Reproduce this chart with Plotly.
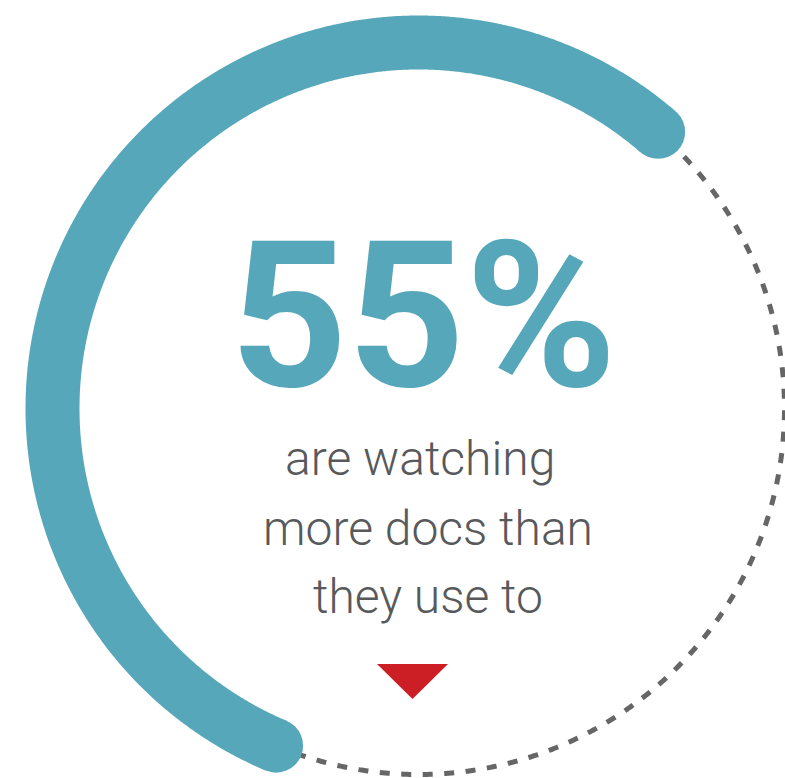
import numpy as np
import plotly.graph_objects as go

# ---- data -----------------------------------------------------------------
SHARE_PCT = 55
HEADLINE = "55%"
CAPTION_LINES = ["are watching", "more docs than", "they use to"]

# ---- styling ----------------------------------------------------------------
TEAL = "#56a7ba"
DOT_GREY = "#666666"
TEXT_GREY = "#58595b"
RED = "#cc1f25"

W, H = 785, 778                 # canvas in px; axes are mapped 1:1 to pixels
CX, CY, R = 418.5, 408.5, 366   # ring centre and radius
RING_W = 54                     # stroke width of the filled arc
ARC_END_DEG = 247.1             # angle of the lower-left end of the filled arc


def ring_xy(deg_from, deg_to, n=720):
    t = np.radians(np.linspace(deg_from, deg_to, n))
    return CX + R * np.cos(t), CY - R * np.sin(t)


span = 360.0 * SHARE_PCT / 100.0
arc_start = ARC_END_DEG - span

fig = go.Figure()

# remaining share: dotted grey arc
rx, ry = ring_xy(ARC_END_DEG - 360.0, arc_start)
fig.add_trace(go.Scatter(
    x=rx, y=ry, mode="lines",
    line=dict(color=DOT_GREY, width=5, dash="10px,11.5px", simplify=False),
    hoverinfo="skip", showlegend=False,
))

# share: thick teal arc with rounded ends
ax, ay = ring_xy(arc_start, ARC_END_DEG)
fig.add_trace(go.Scatter(
    x=ax, y=ay, mode="lines",
    line=dict(color=TEAL, width=RING_W, simplify=False),
    hoverinfo="skip", showlegend=False,
))
fig.add_trace(go.Scatter(
    x=[ax[0], ax[-1]], y=[ay[0], ay[-1]], mode="markers",
    marker=dict(color=TEAL, size=RING_W, line=dict(width=0)),
    hoverinfo="skip", showlegend=False, cliponaxis=False,
))

# red down-pointing marker under the caption
TRI_CX, TRI_TOP, TRI_W, TRI_H = 412.5, 664, 71, 35
fig.add_trace(go.Scatter(
    x=[TRI_CX - TRI_W / 2, TRI_CX + TRI_W / 2, TRI_CX, TRI_CX - TRI_W / 2],
    y=[TRI_TOP, TRI_TOP, TRI_TOP + TRI_H, TRI_TOP],
    mode="lines", fill="toself", fillcolor=RED,
    line=dict(color=RED, width=0),
    hoverinfo="skip", showlegend=False,
))

# headline figure
fig.add_annotation(
    x=423.5, y=315.8, text=HEADLINE, showarrow=False,
    xanchor="center", yanchor="middle",
    font=dict(family="Roboto, sans-serif",
              size=205, color=TEAL, weight="bold"),
)

# caption
cap_x = [419.5, 427.5, 427.5]
cap_y = [458.6, 528.6, 596.6]
for line, x, y in zip(CAPTION_LINES, cap_x, cap_y):
    fig.add_annotation(
        x=x, y=y, text=line, showarrow=False,
        xanchor="center", yanchor="middle",
        font=dict(family="Roboto, sans-serif", size=48,
                  color=TEXT_GREY, weight=300),
    )

fig.update_layout(
    width=W, height=H, autosize=False,
    margin=dict(l=0, r=0, t=0, b=0, pad=0),
    paper_bgcolor="white", plot_bgcolor="white",
    xaxis=dict(range=[0, W], visible=False, fixedrange=True),
    yaxis=dict(range=[H, 0], visible=False, fixedrange=True),
    showlegend=False,
)

fig.write_html("out.html")
